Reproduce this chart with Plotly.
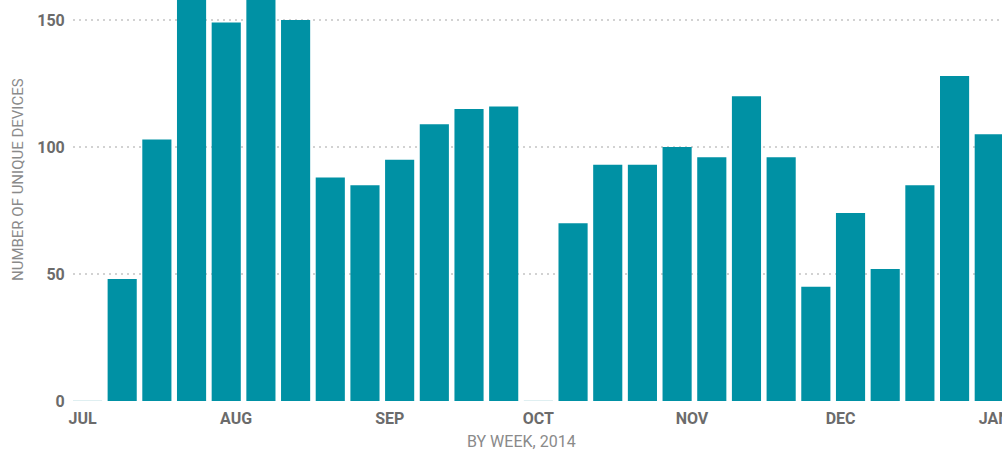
import plotly.graph_objects as go
import pandas as pd

# Weekly buckets, 2014 (bars dated at week centres)
week_start = "2014-07-02"
devices = [0, 48, 103, 172, 149, 176, 150, 88, 85, 95, 109, 115, 116,
           0, 70, 93, 93, 100, 96, 120, 96, 45, 74, 52, 85, 128, 105]
weeks = pd.date_range(week_start, periods=len(devices), freq="7D")

month_ticks = ["2014-07-01", "2014-08-01", "2014-09-01", "2014-10-01",
               "2014-11-01", "2014-12-01", "2015-01-01"]
month_labels = ["JUL", "AUG", "SEP", "OCT", "NOV", "DEC", "JAN"]
y_ticks = [0, 50, 100, 150]

x_title = "BY WEEK, 2014"
y_title = "NUMBER OF UNIQUE DEVICES"

BAR = "#0091a4"
ZERO = "#bfe0e4"
TITLE_C = "#8a8a8a"

fig = go.Figure(go.Bar(
    x=weeks,
    y=devices,
    marker=dict(
        color=BAR,
        line=dict(color=[ZERO if v == 0 else BAR for v in devices],
                  width=[1.2 if v == 0 else 0 for v in devices]),
    ),
    hoverinfo="x+y",
))

fig.update_layout(
    width=1002, height=451,
    margin=dict(l=73, r=0, t=0, b=50, autoexpand=False),
    paper_bgcolor="white", plot_bgcolor="white",
    bargap=0.16,
    showlegend=False,
    font=dict(family="Roboto, Open Sans, sans-serif"),
    annotations=[
        dict(text=y_title, textangle=-90, xref="paper", yref="paper",
             x=-0.0592, y=0.551, xanchor="center", yanchor="middle",
             showarrow=False, font=dict(size=15, color=TITLE_C)),
        dict(text=x_title, xref="paper", yref="paper",
             x=0.483, y=-0.1, xanchor="center", yanchor="middle",
             showarrow=False, font=dict(size=16, color=TITLE_C)),
    ],
)

fig.update_xaxes(
    type="date", automargin=False,
    range=["2014-06-29 01:45", "2015-01-02 13:45"],
    tickvals=month_ticks, ticktext=month_labels,
    tickfont=dict(size=16, color="#6b6b6b", weight="bold"),
    ticks="outside", ticklen=3, tickcolor="rgba(0,0,0,0)",
    ticklabeloverflow="allow",
    showgrid=False, zeroline=False, showline=False,
)

fig.update_yaxes(
    range=[0, 157.9], automargin=False,
    tickvals=y_ticks,
    tickfont=dict(size=16, color="#6b6b6b", weight="bold"),
    ticks="outside", ticklen=4, tickcolor="rgba(0,0,0,0)",
    showgrid=True, gridcolor="#d2d2d2", griddash="2px,4px", gridwidth=2,
    zeroline=True, zerolinecolor="rgba(0,0,0,0)",
    showline=False,
)

fig.write_html("out.html", config={"displayModeBar": False},
               post_script="document.body.style.margin='0';")
